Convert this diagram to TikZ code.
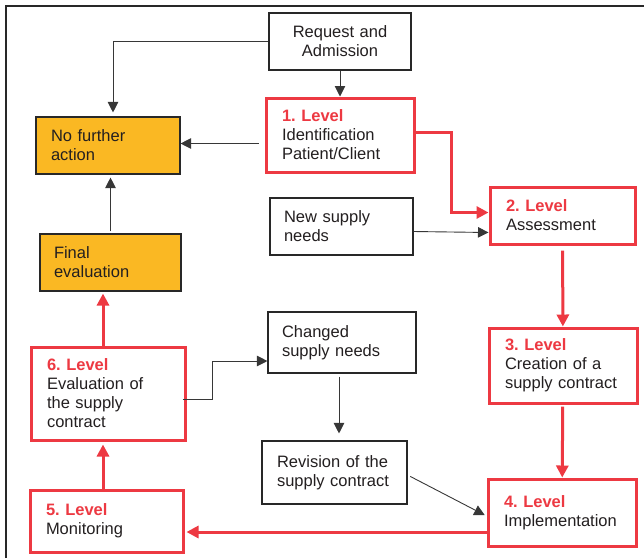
\documentclass[tikz,border=0pt]{standalone}
\usepackage{fontspec}
\setmainfont{Liberation Sans}
\usetikzlibrary{arrows.meta,calc}
\frenchspacing

\definecolor{lvred}{RGB}{237,57,66}
\definecolor{amber}{RGB}{250,184,35}
\definecolor{ink}{RGB}{35,31,32}
\definecolor{boxline}{RGB}{40,40,40}
\definecolor{wire}{RGB}{55,55,55}

\newcommand{\bodyfont}{\fontsize{16.5}{19}\selectfont}
\newcommand{\lvtitle}[1]{{\bfseries\color{lvred}#1}}

\tikzset{
  box/.style={rectangle, draw=boxline, line width=1.1pt, fill=white, text=ink,
              font=\bodyfont, inner ysep=0pt, align=left},
  plainbox/.style={box},
  endbox/.style={box, fill=amber},
  levelbox/.style={box, draw=lvred, line width=3pt},
  arr/.style={draw=wire, line width=0.9pt, -{Triangle[length=10.5pt,width=10.5pt]}},
  redarr/.style={draw=lvred, line width=3pt, -{Triangle[length=12pt,width=12pt]}},
}

\begin{document}
\begin{tikzpicture}[x=1pt, y=-1pt]
  \useasboundingbox (0,0) rectangle (644,558);

  % outer frame (top and left edges)
  \draw[boxline, line width=2.2pt] (6,558) -- (6,6) -- (644,6);

  % boxes
  \node[plainbox, align=center, text width=120pt, inner xsep=11pt, minimum height=57pt]
    (req) at (340,41.5) {Request and\\Admission};
  \node[levelbox, text width=116pt, inner xsep=16pt, minimum height=74pt]
    (l1) at (340,135) {\lvtitle{1. Level}\\Identification\\Patient/Client};
  \node[endbox, text width=114pt, inner xsep=15pt, minimum height=57pt]
    (nofa) at (108,145.5) {No further\\action};
  \node[levelbox, text width=113pt, inner xsep=16pt, minimum height=57pt]
    (l2) at (562.5,215.5) {\lvtitle{2. Level}\\Assessment};
  \node[plainbox, text width=115pt, inner xsep=14pt, minimum height=57pt]
    (new) at (341.5,226.5) {New supply\\needs};
  \node[endbox, text width=113pt, inner xsep=14pt, minimum height=57pt]
    (fin) at (110.5,262.5) {Final\\evaluation};
  \node[plainbox, text width=120pt, inner xsep=14pt, minimum height=61pt]
    (chg) at (342,342.5) {Changed\\supply needs};
  \node[levelbox, text width=116pt, inner xsep=16pt, minimum height=75pt]
    (l3) at (563,365.5) {\lvtitle{3. Level}\\Creation of a\\supply contract};
  \node[levelbox, text width=122pt, inner xsep=16pt, minimum height=93pt]
    (l6) at (108,393.5) {\lvtitle{6. Level}\\Evaluation of\\the supply\\contract};
  \node[plainbox, text width=115pt, inner xsep=15pt, minimum height=63pt]
    (rev) at (334.5,472.5) {Revision of the\\supply contract};
  \node[levelbox, text width=116pt, inner xsep=16pt, minimum height=67pt]
    (l4) at (562,512.5) {\lvtitle{4. Level}\\Implementation};
  \node[levelbox, text width=121pt, inner xsep=16pt, minimum height=62pt]
    (l5) at (106.5,521) {\lvtitle{5. Level}\\Monitoring};

  % black connectors
  \draw[arr] (req) -- (l1);
  \draw[arr, shorten >=4pt] (req.west) -| ($(nofa.north)+(5,0)$);
  \coordinate (a1) at ($(l1.west)+(0,8.5)$);
  \draw[arr, shorten <=6pt] (a1) -- (a1 -| nofa.east);
  \draw[arr] ($(new.east)+(0,5)$) -- ($(l2.west)+(0,17)$);
  \draw[arr, shorten <=2pt, shorten >=3pt] (fin.north) -- (fin.north |- nofa.south);
  \coordinate (d1) at ($(l6.east)+(-4,5.5)$);
  \coordinate (d2) at ($(chg.west)+(0,18.5)$);
  \draw[arr] (d1) -- ++(30,0) |- (d2);
  \coordinate (e1) at ($(chg.south)+(-3,0)$);
  \draw[arr, shorten <=3pt, shorten >=7pt] (e1) -- (e1 |- rev.north);
  \draw[arr, shorten <=3pt, shorten >=2pt] ($(rev.east)+(0,2.5)$) -- ($(l4.west)+(0,3.5)$);

  % red level-to-level connectors
  \coordinate (b1) at ($(l1.east)+(0,-2.5)$);
  \coordinate (b2) at ($(l2.west)+(0,-3)$);
  \draw[redarr] (b1) -- ++(36,0) |- (b2);
  \draw[redarr, shorten <=5pt] (l2) -- (l3);
  \draw[redarr, shorten <=2pt] (l3) -- (l4);
  \coordinate (c1) at ($(l4.west)+(0,19.5)$);
  \draw[redarr, shorten >=2pt] (c1) -- (c1 -| l5.east);
  \coordinate (f1) at ($(l5.north)+(-3.5,0)$);
  \draw[redarr, shorten >=3pt] (f1) -- (f1 |- l6.south);
  \coordinate (g1) at ($(l6.north)+(-5,0)$);
  \draw[redarr, shorten >=2pt] (g1) -- (g1 |- fin.south);
\end{tikzpicture}
\end{document}
